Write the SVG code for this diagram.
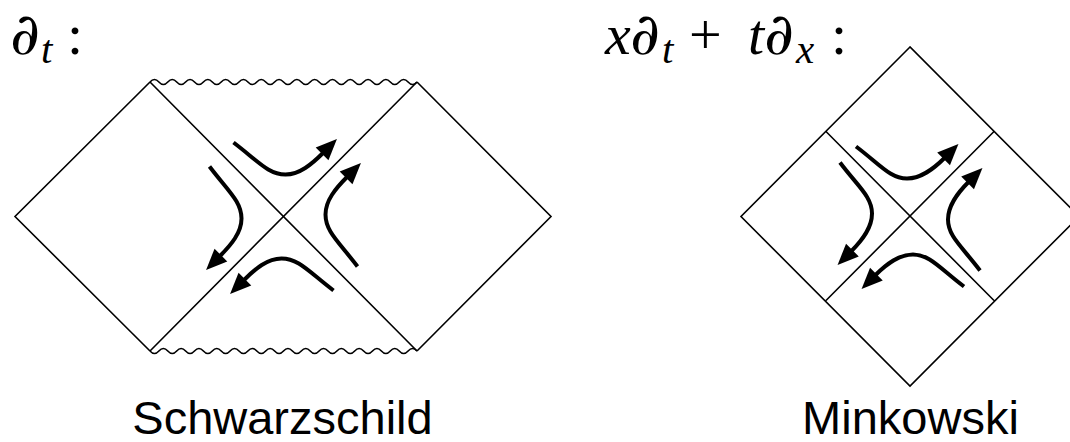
<svg xmlns="http://www.w3.org/2000/svg" xmlns:xlink="http://www.w3.org/1999/xlink" width="1070" height="442" viewBox="0 0 1070 442">
<style>
.edge{fill:none;stroke:#000;stroke-width:1.6;stroke-linejoin:miter}
.wave{fill:none;stroke:#000;stroke-width:1.6}
.flow{fill:none;stroke:#000;stroke-width:4;stroke-linecap:butt;marker-end:url(#ah)}
.math{font-family:"Liberation Serif","DejaVu Serif",serif;fill:#000;font-size:58px}
.it{font-style:italic}
.sub{font-style:italic;font-size:41px}
.pd{font-family:"DejaVu Serif",serif;font-size:58px;font-style:normal}
.cap{font-family:"Liberation Sans",Arial,sans-serif;font-size:47px;fill:#000;text-anchor:middle}
</style>
<defs>
<marker id="ah" markerUnits="userSpaceOnUse" markerWidth="22" markerHeight="20" viewBox="0 0 22 20" refX="2" refY="10" orient="auto" overflow="visible">
<path d="M0,1 L21,10 L0,19 Z" fill="#000"/>
</marker>
<path id="sflow" class="flow" d="M-50,-74 C-25,-55 -15,-42 2,-42 C16,-42 28,-52 40,-64"/>
<path id="mflow" class="flow" d="M-54,-70 C-30,-52 -20,-38 -3,-38 C11,-38 23,-47 35,-59"/>
</defs>

<g id="label-dt">
<text class="math" y="54"><tspan class="pd" x="10">∂</tspan><tspan class="sub" x="41" dy="9">t</tspan><tspan x="67" dy="-9">:</tspan></text>
</g>

<g id="label-boost">
<text class="math" y="54"><tspan class="it" x="605">x</tspan><tspan class="pd" x="630">∂</tspan><tspan class="sub" x="662" dy="9">t</tspan><tspan x="689" dy="-9">+</tspan><tspan class="it" x="748">t</tspan><tspan class="pd" x="764">∂</tspan><tspan class="sub" x="796" dy="9">x</tspan><tspan x="831" dy="-9">:</tspan></text>
</g>

<g id="schwarzschild">
<path class="edge" d="M150,82 L15,216.5 L150,351 M417,82 L551,216.5 L417,351 M150,82 L417,351 M417,82 L150,351"/>
<path class="wave" d="M150,82 q4.45,-5 8.9,0 t8.9,0 t8.9,0 t8.9,0 t8.9,0 t8.9,0 t8.9,0 t8.9,0 t8.9,0 t8.9,0 t8.9,0 t8.9,0 t8.9,0 t8.9,0 t8.9,0 t8.9,0 t8.9,0 t8.9,0 t8.9,0 t8.9,0 t8.9,0 t8.9,0 t8.9,0 t8.9,0 t8.9,0 t8.9,0 t8.9,0 t8.9,0 t8.9,0 t8.9,0"/>
<path class="wave" d="M150,351 q4.45,5 8.9,0 t8.9,0 t8.9,0 t8.9,0 t8.9,0 t8.9,0 t8.9,0 t8.9,0 t8.9,0 t8.9,0 t8.9,0 t8.9,0 t8.9,0 t8.9,0 t8.9,0 t8.9,0 t8.9,0 t8.9,0 t8.9,0 t8.9,0 t8.9,0 t8.9,0 t8.9,0 t8.9,0 t8.9,0 t8.9,0 t8.9,0 t8.9,0 t8.9,0 t8.9,0"/>
<text class="cap" x="282.5" y="434">Schwarzschild</text>
</g>

<g id="minkowski">
<path class="edge" d="M910,47 L741,216.5 L910,386 L1079,216.5 Z M826,131.5 L994,300.5 M994,131.5 L826,300.5"/>
<text class="cap" x="910.5" y="434">Minkowski</text>
</g>

<g id="connectors">
<use xlink:href="#sflow" transform="translate(283.5,216.5)"/>
<use xlink:href="#sflow" transform="translate(283.5,216.5) rotate(180)"/>
<use xlink:href="#sflow" transform="translate(283.5,216.5) matrix(0,1,1,0,0,0)"/>
<use xlink:href="#sflow" transform="translate(283.5,216.5) matrix(0,-1,-1,0,0,0)"/>
<use xlink:href="#mflow" transform="translate(910,216.5)"/>
<use xlink:href="#mflow" transform="translate(910,216.5) rotate(180)"/>
<use xlink:href="#mflow" transform="translate(910,216.5) matrix(0,1,1,0,0,0)"/>
<use xlink:href="#mflow" transform="translate(910,216.5) matrix(0,-1,-1,0,0,0)"/>
</g>
</svg>
